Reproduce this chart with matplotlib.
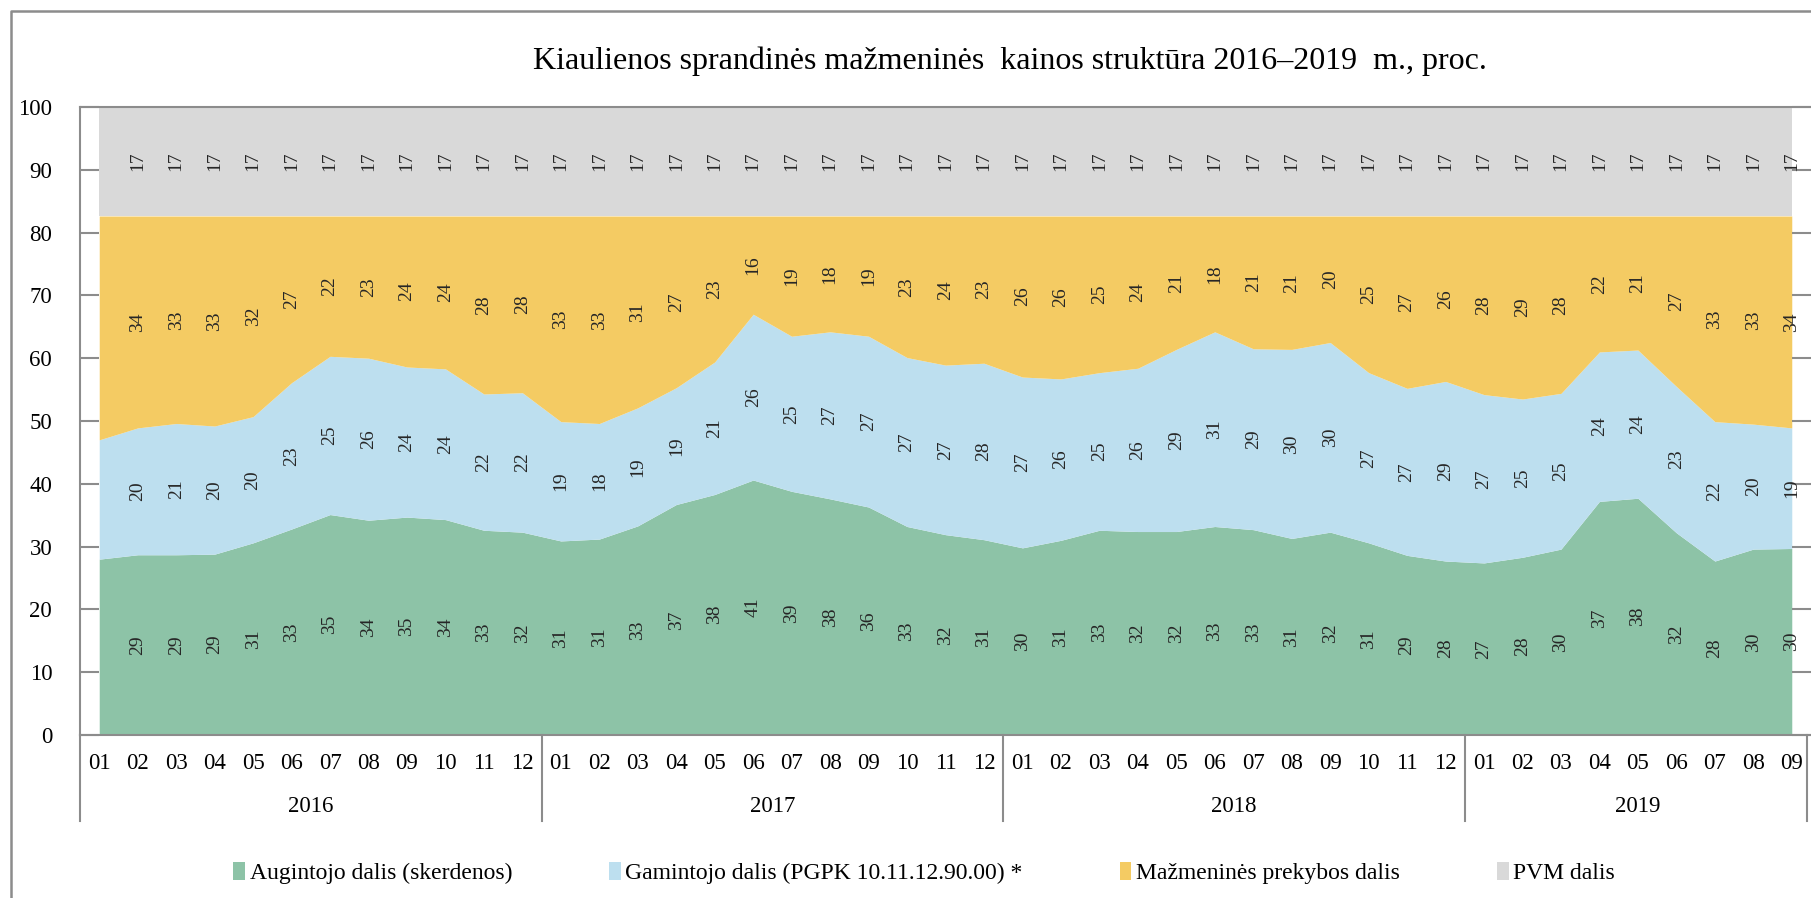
import matplotlib
matplotlib.use("Agg")
import matplotlib.pyplot as plt
from matplotlib.patches import Patch
from matplotlib.lines import Line2D
import matplotlib.transforms as mtransforms

plt.rcParams['font.family'] = ['Liberation Serif', 'DejaVu Serif']

# months 2016-01 .. 2019-09
months = (['01', '02', '03', '04', '05', '06', '07', '08', '09', '10', '11', '12'] * 3
          + ['01', '02', '03', '04', '05', '06', '07', '08', '09'])
years = ['2016', '2017', '2018', '2019']

# shares, %
augintojo = [28.0, 28.7, 28.7, 28.8, 30.6, 32.8, 35.1, 34.2, 34.7, 34.3, 32.6, 32.3,
             30.9, 31.2, 33.3, 36.7, 38.3, 40.6, 38.8, 37.6, 36.3, 33.2, 31.9, 31.1,
             29.8, 31.0, 32.6, 32.4, 32.4, 33.2, 32.7, 31.3, 32.3, 30.6, 28.6, 27.7,
             27.4, 28.3, 29.6, 37.2, 37.7, 32.2, 27.7, 29.6, 29.7]
gamintojo = [19.0, 20.2, 20.9, 20.4, 20.1, 23.3, 25.2, 25.8, 23.9, 24.0, 21.7, 22.2,
             19.0, 18.4, 18.8, 18.6, 21.1, 26.4, 24.7, 26.6, 27.2, 26.9, 27.0, 28.1,
             27.2, 25.7, 25.1, 26.0, 29.0, 31.0, 28.8, 30.1, 30.2, 27.1, 26.6, 28.6,
             26.8, 25.2, 24.8, 23.8, 23.6, 23.3, 22.2, 19.9, 19.2]
mazmenines = [35.64, 33.74, 33.04, 33.44, 31.94, 26.54, 22.34, 22.64, 24.04, 24.34, 28.34, 28.14,
              32.74, 33.04, 30.54, 27.34, 23.24, 15.64, 19.14, 18.44, 19.14, 22.54, 23.74, 23.44,
              25.64, 25.94, 24.94, 24.24, 21.24, 18.44, 21.14, 21.24, 20.14, 24.94, 27.44, 26.34,
              28.44, 29.14, 28.24, 21.64, 21.34, 27.14, 32.74, 33.14, 33.74]
pvm = [17.36] * 45

series = [augintojo, gamintojo, mazmenines, pvm]
names = ['Augintojo dalis (skerdenos)', 'Gamintojo dalis (PGPK 10.11.12.90.00) *',
         'Mažmeninės prekybos dalis', 'PVM dalis']
colors = ['#8DC3A7', '#BDDFEF', '#F4CB63', '#D9D9D9']

W, H = 1811, 898
fig = plt.figure(figsize=(W / 100, H / 100), dpi=100)
ax = fig.add_axes([80 / W, 1 - 735 / H, (W - 80) / W, (735 - 107) / H])

x = list(range(len(months)))
bottom = [0.0] * len(x)
for vals, col in zip(series, colors):
    top = [b + v for b, v in zip(bottom, vals)]
    ax.fill_between(x, bottom, top, color=col, linewidth=0, zorder=1)
    # labels in the middle of each band (first month has none)
    for i in x[1:]:
        ax.text(i, bottom[i] + vals[i] / 2, f'{vals[i]:.0f}', rotation=90,
                ha='center', va='center', fontsize=14, color='#262626', zorder=3)
    bottom = top

ax.set_xlim(-0.5, len(x) - 0.5)
ax.set_ylim(0, 100)
ax.set_yticks(range(0, 101, 10))
ax.tick_params(axis='y', which='both', direction='in', length=14, width=1.5,
               color='#8c8c8c', labelsize=16.5, pad=20, right=True)
ax.set_xticks([])
for s in ['top', 'left', 'bottom']:
    ax.spines[s].set_color('#8c8c8c')
    ax.spines[s].set_linewidth(1.5)
ax.spines['right'].set_visible(False)

# two-level category axis
trans = mtransforms.blended_transform_factory(ax.transData, ax.transAxes)
for i, m in enumerate(months):
    ax.text(i, -0.046, m, transform=trans, ha='center', va='center', fontsize=16.5)
year_centers = [5.5, 17.5, 29.5, 40.0]
for yc, yr in zip(year_centers, years):
    ax.text(yc, -0.1146, yr, transform=trans, ha='center', va='center', fontsize=16.5)
for sx in [-0.5, 11.5, 23.5, 35.5]:
    ax.plot([sx, sx], [0, -0.137], transform=trans, color='#8c8c8c', lw=1.5, clip_on=False)
ax.plot([0.9977, 0.9977], [0, -0.137], transform=ax.transAxes, color='#8c8c8c', lw=1.5,
        clip_on=False)

fig.text(1010 / W, 1 - 61 / H,
         'Kiaulienos sprandinės mažmeninės  kainos struktūra 2016–2019  m., proc.',
         ha='center', va='center', fontsize=23)

handles = [Patch(facecolor=c, edgecolor='none') for c in colors]
fig.legend(handles, names, loc='center', bbox_to_anchor=(924 / W, 1 - 873 / H), ncol=4,
           frameon=False, fontsize=17, handlelength=0.5, handleheight=0.8,
           handletextpad=0.2, columnspacing=4.1)

# chart border (left and top)
fig.add_artist(Line2D([11 / W, 11 / W, 1.0], [0.0, 1 - 11 / H, 1 - 11 / H],
                      transform=fig.transFigure, color='#8c8c8c', lw=1.8))

fig.savefig('out.png', dpi=100)
